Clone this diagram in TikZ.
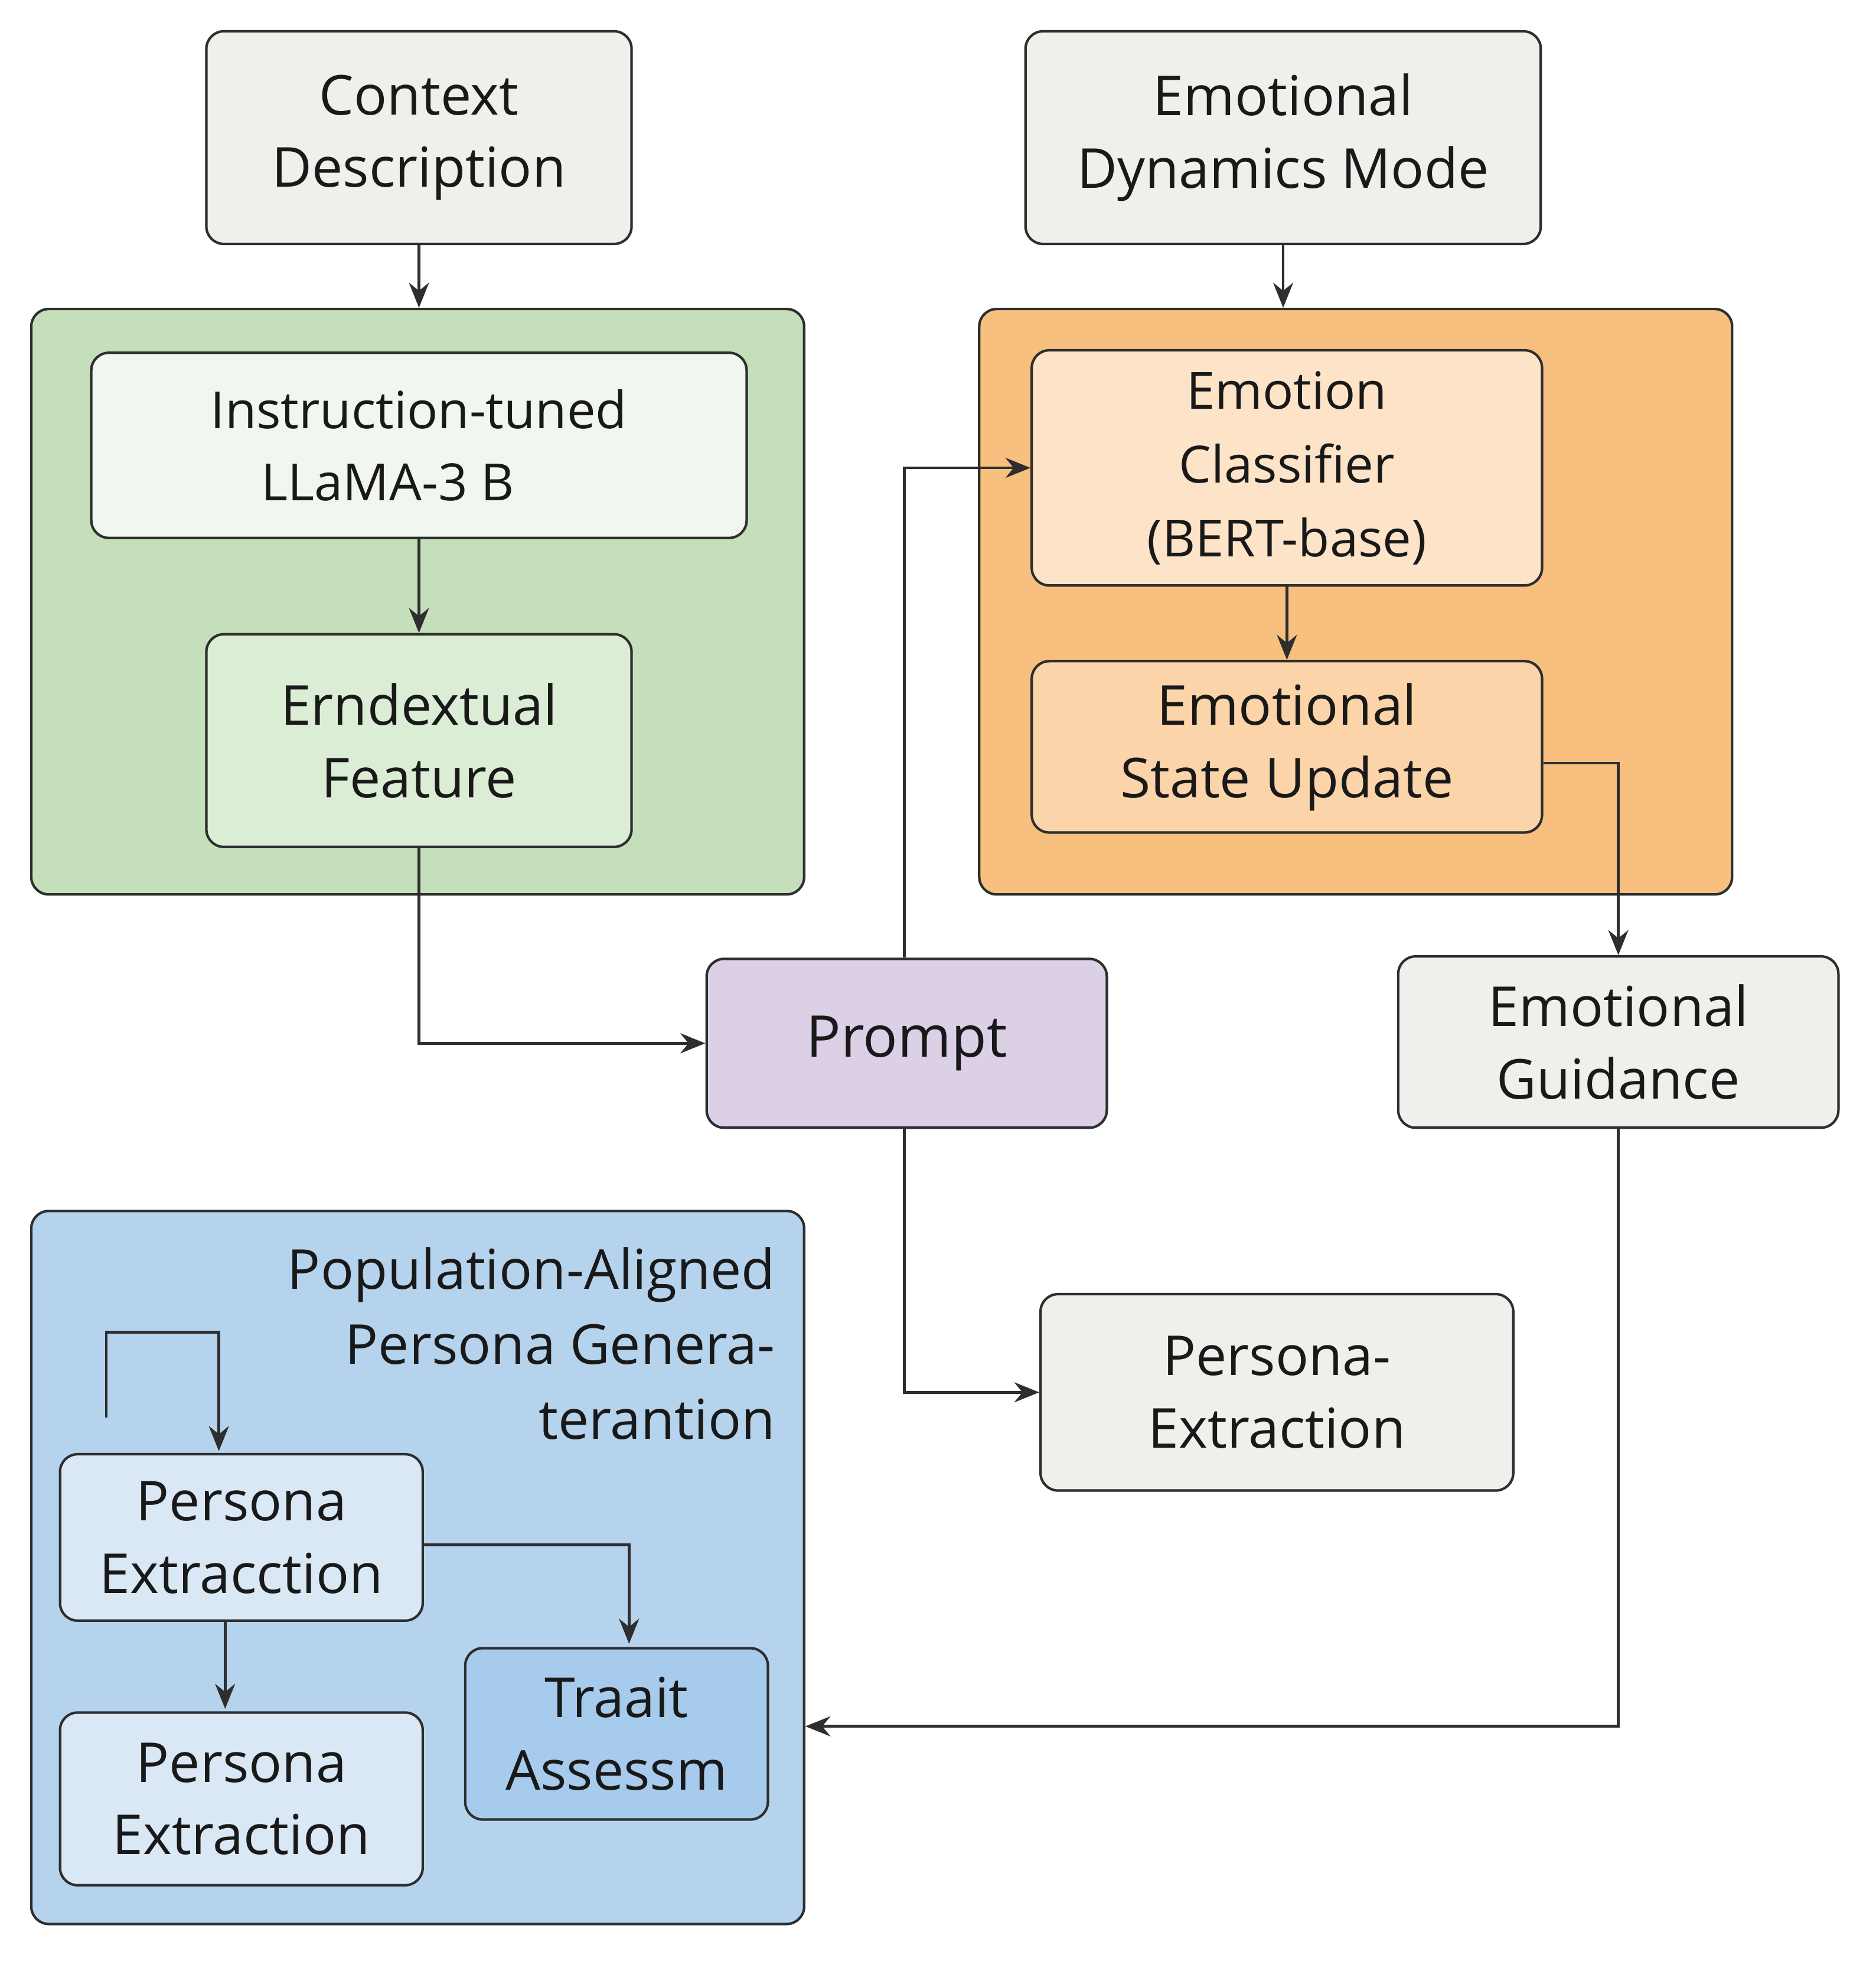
\documentclass[tikz,border=0pt]{standalone}
\usepackage{fontspec}
\setmainfont{Open Sans}
\usetikzlibrary{arrows.meta}
\definecolor{gbox}{HTML}{F1EFEB}
\definecolor{green1}{HTML}{C5DFBB}
\definecolor{green2}{HTML}{F1F7EF}
\definecolor{green3}{HTML}{DCEDD6}
\definecolor{or1}{HTML}{F8C07F}
\definecolor{or2}{HTML}{FDE4C8}
\definecolor{or3}{HTML}{FCD4A9}
\definecolor{purp}{HTML}{DCD0E7}
\definecolor{blue1}{HTML}{B5D3EC}
\definecolor{blue2}{HTML}{DAE8F5}
\definecolor{blue3}{HTML}{A6CBEC}
\definecolor{ln}{HTML}{2E2E2E}
\begin{document}
\begin{tikzpicture}[x=1pt,y=-1pt,
 box/.style={draw=ln,line width=2pt,rounded corners=14pt,align=center,inner sep=0pt,text=black!90,font=\fontsize{44}{58}\selectfont},
 arr/.style={draw=ln,line width=2.2pt,-{Stealth[length=20pt,width=16pt]}}]
\useasboundingbox (0,0) rectangle (1500,1575.6);
\fill[white] (0,0) rectangle (1500,1575.6);
% containers
\node[box,fill=green1,minimum width=618pt,minimum height=468pt] (G) at (334,481) {};
\node[box,fill=or1,minimum width=602pt,minimum height=468pt] (O) at (1084,481) {};
\node[box,fill=blue1,minimum width=618pt,minimum height=570pt] (B) at (334,1253) {};
% top
\node[box,fill=gbox,minimum width=340pt,minimum height=170pt] (ctx) at (335,110) {Context\\Description};
\node[box,fill=gbox,minimum width=412pt,minimum height=170pt] (edm) at (1026,110) {Emotional\\Dynamics Mode};
% green
\node[box,fill=green2,minimum width=524pt,minimum height=148pt,font=\fontsize{41}{58}\selectfont] (llm) at (335,356) {Instruction-tuned\\\hspace*{-50pt}LLaMA-3 B};
\node[box,fill=green3,minimum width=340pt,minimum height=170pt] (feat) at (335,592) {Erndextual\\Feature};
% orange
\node[box,fill=or2,minimum width=408pt,minimum height=188pt,font=\fontsize{41}{59}\selectfont] (cls) at (1029,374) {Emotion\\Classifier\\(BERT-base)};
\node[box,fill=or3,minimum width=408pt,minimum height=137pt] (upd) at (1029,597) {Emotional\\State Update};
% middle
\node[box,fill=purp,minimum width=320pt,minimum height=135pt,font=\fontsize{46}{58}\selectfont] (pr) at (725,834) {Prompt};
\node[box,fill=gbox,minimum width=352pt,minimum height=137pt] (gd) at (1294,833) {Emotional\\Guidance};
\node[box,fill=gbox,minimum width=378pt,minimum height=157pt] (pe) at (1021,1113) {Persona-\\Extraction};
% blue
\node[align=right,anchor=north east,inner sep=0pt,font=\fontsize{44}{60}\selectfont,text=black!90] (ttl) at (620,997) {Population-Aligned\\Persona Genera-\\terantion};
\node[box,fill=blue2,minimum width=290pt,minimum height=133pt] (px1) at (193,1229) {Persona\\Extracction};
\node[box,fill=blue2,minimum width=290pt,minimum height=138pt] (px2) at (193,1438) {Persona\\Extraction};
\node[box,fill=blue3,minimum width=242pt,minimum height=137pt] (tr) at (493,1386) {Traait\\Assessm};
% arrows
\draw[arr] (ctx.south) -- (G.north -| ctx.south);
\draw[arr] (edm.south) -- (O.north -| edm.south);
\draw[arr] (llm.south) -- (feat.north);
\draw[arr] (feat.south) |- (pr.west);
\draw[arr] (pr.north -| 723,0) |- (cls.west);
\draw[arr] (cls.south) -- (upd.north);
\coordinate (u) at (upd.east |- 0,610);
\draw[arr] (u) -| (gd.north);
\draw[arr] (723,902) |- (pe.west);
\draw[arr] (gd.south) |- (B.east |- 0,1380);
\coordinate (lp) at (85,1133);
\draw[arr] (lp) |- (175,1065) -- (175,1160);
\draw[arr] (px1.east |- 0,1235) -| (503,1314);
\draw[arr] (px1.south -| 180,0) -- (180,1366);
\end{tikzpicture}
\end{document}
